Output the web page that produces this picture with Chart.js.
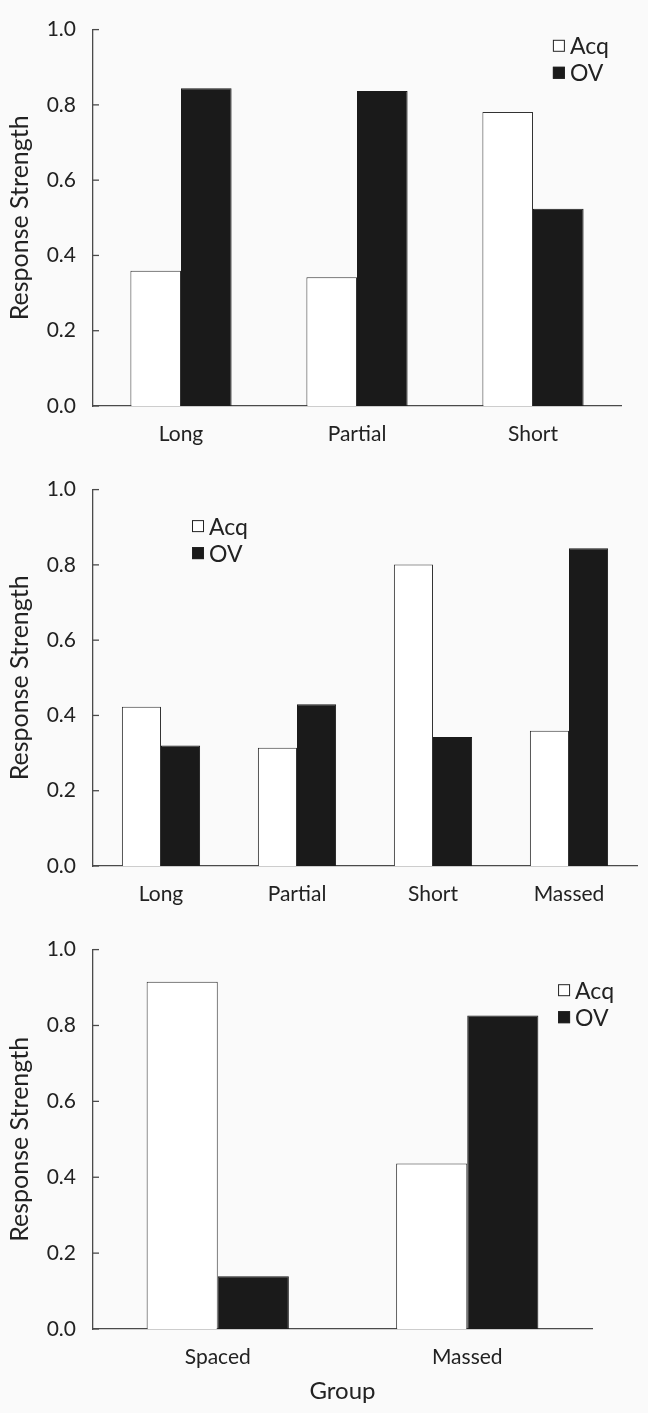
<!DOCTYPE html>
<html>
<head>
<meta charset="utf-8">
<script src="https://cdn.jsdelivr.net/npm/chart.js@4.4.1/dist/chart.umd.min.js"></script>
<style>
    html, body { margin: 0; padding: 0; background: #fafafa; }
    #charts { position: relative; width: 648px; height: 1413px; }
    .panel { position: absolute; left: 0; }
</style>
</head>
<body>
<div id="charts">
    <div class="panel" style="top:0px"><canvas id="chart-top" width="648" height="460"></canvas></div>
    <div class="panel" style="top:460px"><canvas id="chart-middle" width="648" height="460"></canvas></div>
    <div class="panel" style="top:920px"><canvas id="chart-bottom" width="648" height="493"></canvas></div>
</div>
<script>
// values
const TOP_GROUPS = ["Long", "Partial", "Short"];
const TOP_ACQ = [0.359, 0.342, 0.781];
const TOP_OV = [0.844, 0.837, 0.524];

const MIDDLE_GROUPS = ["Long", "Partial", "Short", "Massed"];
const MIDDLE_ACQ = [0.423, 0.314, 0.801, 0.359];
const MIDDLE_OV = [0.320, 0.430, 0.343, 0.844];

const BOTTOM_GROUPS = ["Spaced", "Massed"];
const BOTTOM_ACQ = [0.915, 0.436];
const BOTTOM_OV = [0.139, 0.826];

const Y_TICKS = [0.0, 0.2, 0.4, 0.6, 0.8, 1.0];

const FONT_FAMILY = "Lato, 'Noto Sans', sans-serif";
const TEXT_COLOR = "#222";
const AXIS_COLOR = "#4a4a4a";

// small tick marks pointing into the plot, as in the original
const innerTicks = {
    id: "innerTicks",
    afterDatasetsDraw: function (chart) {
        let yScale = chart.scales.y;
        let ctx = chart.ctx;
        ctx.save();
        ctx.strokeStyle = AXIS_COLOR;
        ctx.lineWidth = 1.3;
        yScale.ticks.forEach(function (tick) {
            let py = yScale.getPixelForValue(tick.value);
            ctx.beginPath();
            ctx.moveTo(chart.chartArea.left, py);
            ctx.lineTo(chart.chartArea.left + 6, py);
            ctx.stroke();
        });
        ctx.restore();
    }
};

// legend sitting inside the plot area
const insideLegend = {
    id: "insideLegend",
    afterDraw: function (chart, args, opts) {
        let area = chart.chartArea;
        let ctx = chart.ctx;
        let x = area.left + opts.x * (area.right - area.left);
        let y = area.top + opts.y * (area.bottom - area.top);
        ctx.save();
        chart.data.datasets.forEach(function (ds, i) {
            let cy = y + i * 27;
            ctx.fillStyle = ds.backgroundColor;
            ctx.fillRect(x, cy - 6, 12, 12);
            ctx.strokeStyle = "#222";
            ctx.lineWidth = 1;
            ctx.strokeRect(x + 0.5, cy - 5.5, 11, 11);
            ctx.fillStyle = TEXT_COLOR;
            ctx.font = "23px " + FONT_FAMILY;
            ctx.textBaseline = "middle";
            ctx.textAlign = "left";
            ctx.fillText(ds.label, x + 17, cy + 1);
        });
        ctx.restore();
    }
};

function generateBarConfig(groups, acq, ov, opts) {
    return {
        type: "bar",
        data: {
            labels: groups,
            datasets: [
                {
                    label: "Acq",
                    data: acq,
                    backgroundColor: "#ffffff",
                    borderColor: "#333",
                    borderWidth: 1
                },
                {
                    label: "OV",
                    data: ov,
                    backgroundColor: "#1a1a1a",
                    borderColor: "#1a1a1a",
                    borderWidth: 1
                }
            ]
        },
        options: {
            responsive: false,
            animation: false,
            categoryPercentage: opts.groupWidth,
            barPercentage: 1,
            layout: { padding: { top: opts.top, right: opts.right, left: 0, bottom: 0 } },
            plugins: {
                legend: { display: false },
                tooltip: { enabled: false },
                insideLegend: { x: opts.legendX, y: opts.legendY }
            },
            scales: {
                x: {
                    grid: { display: false, drawTicks: false },
                    border: { color: AXIS_COLOR, width: 1.3 },
                    ticks: { padding: 16, color: TEXT_COLOR, font: { family: FONT_FAMILY, size: 21 } },
                    title: {
                        display: !!opts.xTitle,
                        text: opts.xTitle || "",
                        color: TEXT_COLOR,
                        font: { family: FONT_FAMILY, size: 24 },
                        padding: { top: 0, bottom: 7 }
                    },
                    afterFit: function (scale) { scale.height = opts.xHeight; }
                },
                y: {
                    min: 0,
                    max: 1,
                    grid: { display: false, drawTicks: false },
                    border: { color: AXIS_COLOR, width: 1.3 },
                    afterBuildTicks: function (scale) {
                        scale.ticks = Y_TICKS.map(function (v) { return { value: v }; });
                    },
                    ticks: {
                        padding: 17,
                        color: TEXT_COLOR,
                        font: { family: FONT_FAMILY, size: 21 },
                        callback: function (v) { return Number(v).toFixed(1); }
                    },
                    title: {
                        display: true,
                        text: "Response Strength",
                        color: TEXT_COLOR,
                        font: { family: FONT_FAMILY, size: 25 },
                        padding: { top: 5, bottom: 0 }
                    },
                    afterFit: function (scale) { scale.width = 93; }
                }
            }
        },
        plugins: [innerTicks, insideLegend]
    };
}

new Chart(document.getElementById("chart-top"), generateBarConfig(TOP_GROUPS, TOP_ACQ, TOP_OV,
    { top: 23, right: 27, xHeight: 54, groupWidth: 0.575, legendX: 0.871, legendY: 0.043 }));

new Chart(document.getElementById("chart-middle"), generateBarConfig(MIDDLE_GROUPS, MIDDLE_ACQ, MIDDLE_OV,
    { top: 24, right: 11, xHeight: 54, groupWidth: 0.575, legendX: 0.182, legendY: 0.097 }));

new Chart(document.getElementById("chart-bottom"), generateBarConfig(BOTTOM_GROUPS, BOTTOM_ACQ, BOTTOM_OV,
    { top: 27, right: 56, xHeight: 84, groupWidth: 0.57, legendX: 0.932, legendY: 0.107, xTitle: "Group" }));
</script>
</body>
</html>
